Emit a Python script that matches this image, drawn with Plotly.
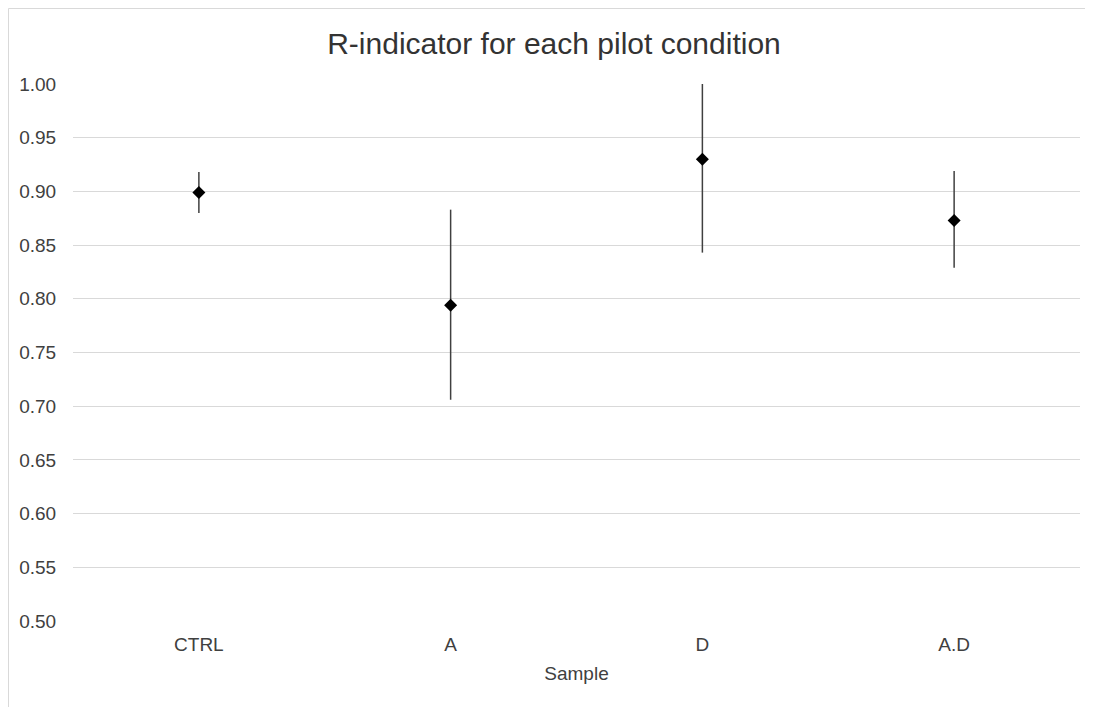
import plotly.graph_objects as go

categories = ["CTRL", "A", "D", "A.D"]
r_indicator = [0.899, 0.794, 0.930, 0.873]
err_plus = [0.019, 0.089, 0.070, 0.046]
err_minus = [0.019, 0.088, 0.087, 0.044]
y_ticks = [0.50, 0.55, 0.60, 0.65, 0.70, 0.75, 0.80, 0.85, 0.90, 0.95, 1.00]

fig = go.Figure()
fig.add_trace(go.Scatter(
    x=categories, y=r_indicator, mode="markers",
    marker=dict(symbol="diamond", size=10, color="black"),
    error_y=dict(type="data", symmetric=False, array=err_plus, arrayminus=err_minus,
                 color="#404040", thickness=1.5, width=0),
    showlegend=False,
))

# the page places the figure 8px from the window's top-left corner
L, R, T, B = 65, 21, 76, 94
W, H = 1093, 707
pw, ph = W - L - R, H - T - B

font = "Liberation Sans, Arial, sans-serif"
fig.update_layout(
    width=W, height=H,
    margin=dict(l=L, r=R, t=T, b=B),
    paper_bgcolor="white", plot_bgcolor="white",
    font=dict(family=font, color="#404040"),
    title=dict(text="R-indicator for each pilot condition", x=(554 - 8) / W, xanchor="center",
               xref="container", y=1 - 35 / H, yref="container", yanchor="middle",
               font=dict(size=30, color="#333333", family=font)),
    xaxis=dict(type="category", range=[-0.5, 3.5], showgrid=False, zeroline=False,
               showline=False, ticks="outside", ticklen=6, tickcolor="rgba(0,0,0,0)",
               tickfont=dict(size=19, color="#404040"),
               title=dict(text="Sample", font=dict(size=19, color="#404040"), standoff=12)),
    yaxis=dict(range=[0.5, 1.0], tickvals=y_ticks, tickformat=".2f",
               showgrid=True, gridcolor="#d9d9d9", gridwidth=1, zeroline=False,
               showline=False, ticks="outside", ticklen=12, tickcolor="rgba(0,0,0,0)",
               tickfont=dict(size=19, color="#404040")),
    shapes=[
        dict(type="line", xref="paper", yref="paper",
             x0=(0.5 - L) / pw, x1=(W - L) / pw,
             y0=(H - B - 0.5) / ph, y1=(H - B - 0.5) / ph,
             line=dict(color="#d9d9d9", width=1)),
        dict(type="line", xref="paper", yref="paper",
             x0=(0.5 - L) / pw, x1=(0.5 - L) / pw,
             y0=(H - B - 0.5) / ph, y1=-B / ph,
             line=dict(color="#d9d9d9", width=1)),
    ],
)

fig.write_html("out.html")
